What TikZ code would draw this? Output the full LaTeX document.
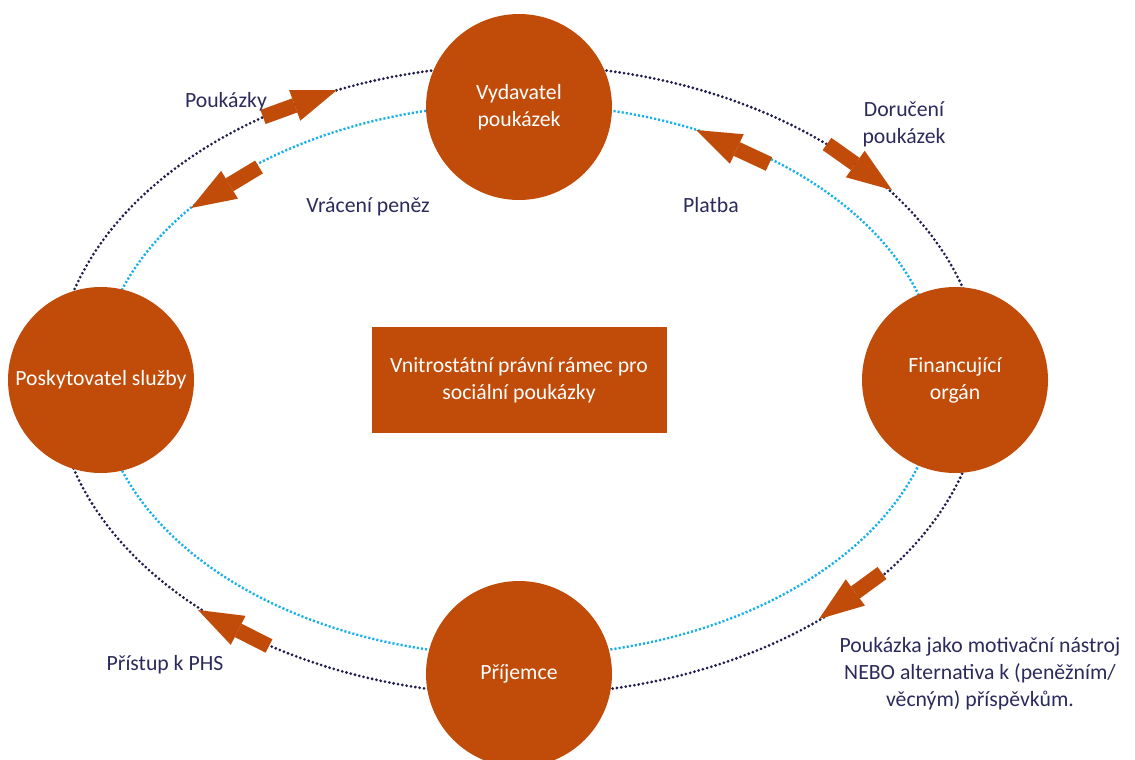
\documentclass[tikz,border=0pt]{standalone}
\usepackage{fontspec}
\setmainfont{Carlito}
\usetikzlibrary{arrows.meta}
\definecolor{rust}{RGB}{193,76,9}
\definecolor{navy}{RGB}{43,42,92}
\definecolor{dotnavy}{RGB}{32,30,78}
\definecolor{skyblue}{RGB}{26,176,234}
\tikzset{
	party/.style={circle,fill=rust,text=white,minimum size=139.5pt,inner sep=0pt,align=center},
	frame/.style={rectangle,fill=rust,text=white,minimum width=221.25pt,minimum height=79.5pt,align=center},
	flow/.style={rust,line width=11.25pt,-{Triangle[length=33.75pt,width=24.4pt,line width=0pt]}},
	lbl/.style={text=navy,inner sep=0pt,align=center}
}
\begin{document}
\begin{tikzpicture}[x=0.75pt,y=-0.75pt,font=\fontsize{16.3}{20.3}\selectfont]
	\useasboundingbox (0,0) rectangle (1135,760);
	% the two rings
	\draw[dotnavy,line width=2.3pt,line cap=round,dash pattern=on 0pt off 3.3pt] (519,380) ellipse [x radius=464,y radius=315];
	\draw[skyblue,line width=1.8pt,dash pattern=on 1.6pt off 1.5pt] (519,380) ellipse [x radius=420,y radius=276];
	% parties
	\foreach \x/\y/\n/\t in {519/107/issuer/{Vydavatel\\poukázek}, 101/380/provider/{Poskytovatel služby}, 955/380/funder/{Financující\\orgán}, 519/674/recipient/{Příjemce}}{
		\node[party] (\n) at (\x,\y) {\t};
	}
	\node[frame] (law) at (519,380) {Vnitrostátní právní rámec pro\\sociální poukázky};
	% flows
	\foreach \a/\b/\c/\d/\n in {263/117/337/90/vouchers, 259/167/191/208/refund, 769/164/696/130/payment, 827/144/892/190/delivery, 882/573/819/619/incentive, 269/646/198/610/access}{
		\coordinate (\n-s) at (\a,\b);
		\coordinate (\n-e) at (\c,\d);
		\draw[flow] (\n-s) -- (\n-e);
	}
	% labels
	\node[lbl,anchor=base] (lvouchers) at (226,107) {Poukázky};
	\node[lbl,anchor=base] (lrefund) at (368,212) {Vrácení peněz};
	\node[lbl,anchor=base] (lpayment) at (711,212) {Platba};
	\node[lbl] (ldelivery) at (904,124) {Doručení\\poukázek};
	\node[lbl] (lincentive) at (980,674) {Poukázka jako motivační nástroj\\NEBO alternativa k (peněžním/\\věcným) příspěvkům.};
	\node[lbl,anchor=base] (laccess) at (165,670) {Přístup k PHS};
\end{tikzpicture}
\end{document}
